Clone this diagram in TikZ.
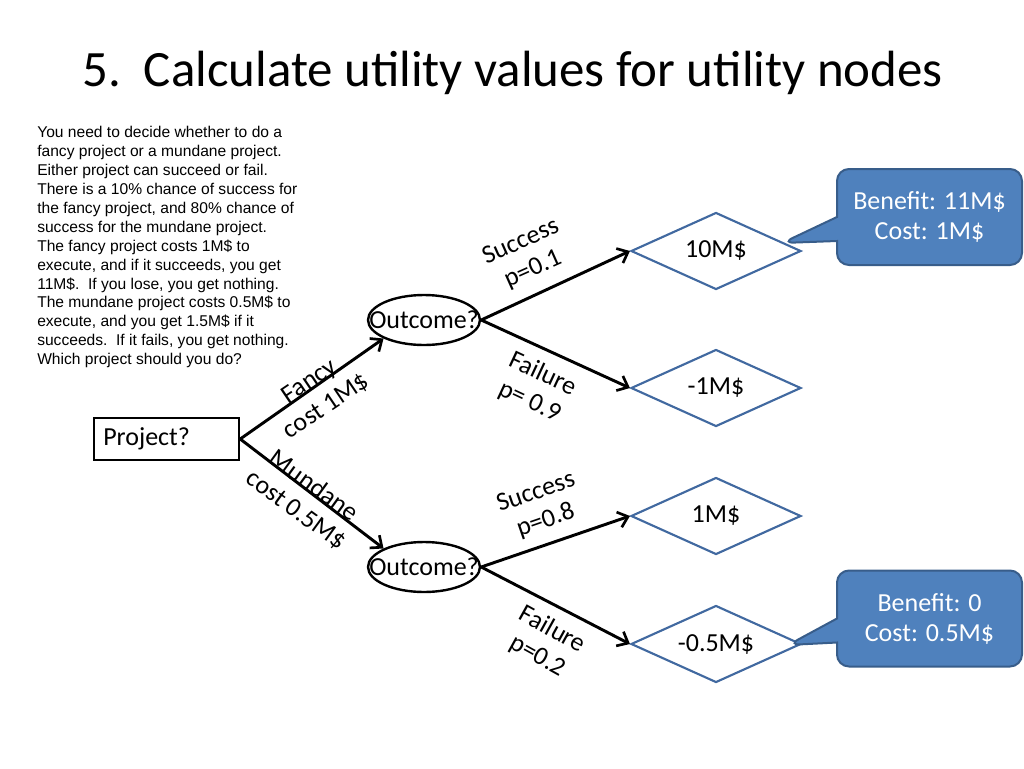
\documentclass[tikz,border=0pt]{standalone}
\usepackage{fontspec}
\setmainfont{Carlito}
\newfontfamily\arialfont{Liberation Sans}
\usetikzlibrary{arrows.meta,shapes.geometric,shapes.callouts}
\definecolor{calloutfill}{RGB}{79,129,189}
\definecolor{calloutdraw}{RGB}{56,93,138}
\definecolor{diamdraw}{RGB}{65,105,160}
\tikzset{
  big/.style={font=\fontsize{19.5}{22.5}\selectfont},
  conn/.style={line width=2.2pt,-{Straight Barb[length=7pt,width=12pt,line width=2pt]}},
  lbl/.style={big,align=center,inner sep=0pt},
  txt/.style={big,inner sep=0pt},
  util/.style={diamond,draw=diamdraw,line width=1.6pt,minimum width=127.5pt,minimum height=57.75pt,inner sep=0pt},
  chance/.style={ellipse,draw,line width=1.8pt,minimum width=84pt,minimum height=37.5pt,inner sep=0pt},
  decision/.style={rectangle,draw,line width=1.8pt,minimum width=108.75pt,minimum height=31.5pt,inner sep=0pt},
  note/.style={rectangle callout,fill=calloutfill,draw=calloutdraw,line width=1.5pt,rounded corners=9pt,minimum width=138.75pt,minimum height=72pt,text=white,align=center,big,callout pointer width=18pt}
}
\begin{document}
\begin{tikzpicture}[x=0.75pt,y=-0.75pt]
\useasboundingbox (0,0) rectangle (1024,768);

\node[anchor=base west,inner sep=0pt,font=\fontsize{38.2}{44}\selectfont] (title) at (82,86) {5.\ \ Calculate utility values for utility nodes};

\node[anchor=north west,inner sep=0pt,align=left,font=\arialfont\fontsize{11.7}{14.2}\selectfont] (problem) at (37,126) {You need to decide whether to do a\\
fancy project or a mundane project.\\
Either project can succeed or fail.\\
There is a 10\% chance of success for\\
the fancy project, and 80\% chance of\\
success for the mundane project.\\
The fancy project costs 1M\$ to\\
execute, and if it succeeds, you get\\
11M\$.\ \ If you lose, you get nothing.\\
The mundane project costs 0.5M\$ to\\
execute, and you get 1.5M\$ if it\\
succeeds.\ \ If it fails, you get nothing.\\
Which project should you do?};

\node[decision] (proj) at (166.5,439) {};
\node[anchor=west,txt] (projtxt) at (103,439) {Project?};

\node[chance] (o1) at (424,320) {};
\node[txt] (o1txt) at (o1.center) {Outcome?};
\node[chance] (o2) at (424,567) {};
\node[txt] (o2txt) at (o2.center) {Outcome?};

\node[util] (d1) at (716,251) {};
\node[txt] (d1txt) at (d1.center) {10M\$};
\node[util] (d2) at (716,388) {};
\node[txt] (d2txt) at (d2.center) {-1M\$};
\node[util] (d3) at (716,516) {};
\node[txt] (d3txt) at (d3.center) {1M\$};
\node[util] (d4) at (716,644) {};
\node[txt] (d4txt) at (d4.center) {-0.5M\$};

\draw[conn] (proj.east) -- (o1.south west);
\draw[conn] (proj.east) -- (o2.north west);
\draw[conn] (o1.east) -- (d1.west);
\draw[conn] (o1.east) -- (d2.west);
\draw[conn] (o2.east) -- (d3.west);
\draw[conn] (o2.east) -- (d4.west);

\node[lbl,rotate=34] (lfancy) at (318,394) {Fancy\\cost 1M\$};
\node[lbl,rotate=-36] (lmund) at (305,498) {Mundane\\cost 0.5M\$};
\node[lbl,rotate=24] (ls1) at (527,256) {Success\\p=0.1};
\node[lbl,rotate=-25] (lf1) at (536,388) {Failure\\p= 0.9};
\node[lbl,rotate=19] (ls2) at (541,507) {Success\\p=0.8};
\node[lbl,rotate=-29] (lf2) at (545,643) {Failure\\p=0.2};

\coordinate (tip1) at (782,243);
\coordinate (tip2) at (788,645);
\node[note,callout absolute pointer=(tip1)] (c1) at (929.5,217) {Benefit: 11M\$\\Cost: 1M\$};
\node[note,callout absolute pointer=(tip2)] (c2) at (929.5,618.5) {Benefit: 0\\Cost: 0.5M\$};
\end{tikzpicture}
\end{document}
